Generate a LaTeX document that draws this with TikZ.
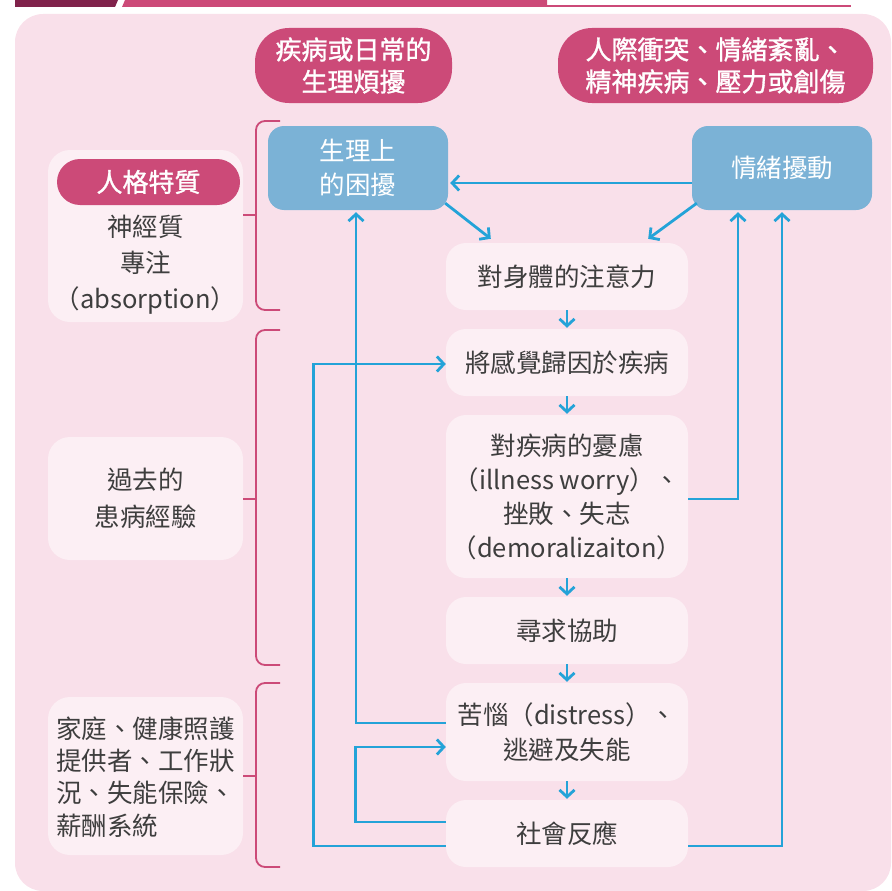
\documentclass[tikz,border=0pt]{standalone}
\usepackage{fontspec}
\setmainfont{Noto Sans CJK TC}
\newfontfamily\pillfont[FakeBold=1.2]{Noto Sans CJK TC}
\usetikzlibrary{arrows.meta}
\definecolor{panelpink}{RGB}{249,224,234}
\definecolor{boxpink}{RGB}{252,239,244}
\definecolor{rose}{RGB}{204,74,120}
\definecolor{maroon}{RGB}{128,34,75}
\definecolor{boxblue}{RGB}{123,178,214}
\definecolor{flowblue}{RGB}{36,163,216}
\definecolor{txtgray}{RGB}{62,62,62}
\tikzset{
 cbox/.style={fill=boxpink, rounded corners=20pt, minimum width=242pt, inner sep=0pt, align=center, text=txtgray, font=\fontsize{25.5}{34}\selectfont},
 lbox/.style={fill=boxpink, rounded corners=22pt, minimum width=195pt, inner sep=0pt},
 bbox/.style={fill=boxblue, rounded corners=16pt, minimum width=180pt, minimum height=84pt, inner sep=0pt, align=center, text=white, font=\fontsize{25.5}{34}\selectfont},
 pill/.style={fill=rose, rounded corners=34pt, inner sep=0pt, align=center, text=white, font=\pillfont\fontsize{26}{32}\selectfont},
 plaintext/.style={inner sep=0pt, text=txtgray, font=\fontsize{25.5}{36}\selectfont},
 flow/.style={draw=flowblue, line width=2.8pt, -{Straight Barb[length=7pt,width=15pt]}},
 brk/.style={draw=rose, line width=1.8pt, rounded corners=9pt},
}
\begin{document}
\begin{tikzpicture}[x=1pt,y=-1pt]
\useasboundingbox (0,0) rectangle (891,891);
% top strip
\fill[maroon] (15,0) -- (118,0) -- (115,7) -- (15,7) -- cycle;
\fill[rose] (125,0) -- (547,0) -- (547,7) -- (122,7) -- cycle;
\fill[rose] (547,4.7) rectangle (851,7.3);
% panel
\fill[panelpink, rounded corners=28pt] (15,14) rectangle (891,891);

% top pills
\node[pill, minimum width=197pt, minimum height=75pt] (top1) at (353.5,65.5) {疾病或日常的\\生理煩擾};
\node[pill, minimum width=315pt, minimum height=75pt] (top2) at (715.5,65.5) {人際衝突、情緒紊亂、\\精神疾病、壓力或創傷};

% blue boxes
\node[bbox] (phys) at (358,168) {生理上\\的困擾};
\node[bbox] (emo) at (782,168) {情緒擾動};

% center column
\node[cbox, minimum height=67pt] (att) at (567,276.5) {對身體的注意力};
\node[cbox, minimum height=67pt] (attr) at (567,362.5) {將感覺歸因於疾病};
\node[cbox, minimum height=163pt] (worry) at (567,496.5) {對疾病的憂慮\\（illness worry）、\\挫敗、失志\\（demoralizaiton）};
\node[cbox, minimum height=67pt] (help) at (567,630.5) {尋求協助};
\node[cbox, minimum height=98pt, font=\fontsize{25.5}{35}\selectfont] (dist) at (567,732) {苦惱（distress）、\\逃避及失能};
\node[cbox, minimum height=67pt] (soc) at (567,833.5) {社會反應};

% left boxes
\node[lbox, minimum height=172pt] (pers) at (145.5,236) {};
\node[pill, minimum width=183pt, minimum height=46pt, rounded corners=23pt] (perstag) at (148.5,182) {人格特質};
\node[plaintext, align=center] (perstext) at (145.5,265) {神經質\\專注\\（absorption）};

\node[lbox, minimum height=123pt] (past) at (145.5,498.5) {};
\node[plaintext, align=center, font=\fontsize{25.5}{37}\selectfont] (pasttext) at (145.5,498.5) {過去的\\患病經驗};

\node[lbox, minimum height=158pt] (fam) at (145.5,776) {};
\node[plaintext, align=left, anchor=west, font=\fontsize{25.5}{32.3}\selectfont] (famtext) at (56,777) {家庭、健康照護\\提供者、工作狀\\況、失能保險、\\薪酬系統};

% brackets
\coordinate (b1) at (256,215);
\coordinate (b2) at (256,499);
\coordinate (b3) at (256,776);
\draw[brk] (280,121) -- (256,121) -- (256,310) -- (280,310);
\draw[brk] (280,330) -- (256,330) -- (256,665) -- (280,665);
\draw[brk] (280,683) -- (256,683) -- (256,867) -- (280,867);
\draw[draw=rose, line width=1.8pt] (pers.east |- b1) -- (b1);
\draw[draw=rose, line width=1.8pt] (past.east |- b2) -- (b2);
\draw[draw=rose, line width=1.8pt] (fam.east |- b3) -- (b3);

% flow arrows
\draw[flow, shorten >=2pt] ([yshift=-15pt]emo.west) -- ([yshift=-15pt]phys.east);
\draw[flow] ([xshift=-3pt,yshift=7pt]phys.south east) -- ([xshift=45pt,yshift=4pt]att.north west);
\draw[flow] ([xshift=5pt,yshift=7pt]emo.south west) -- ([xshift=-40pt,yshift=4pt]att.north east);

\draw[flow, shorten >=1pt] (att) -- (attr);
\draw[flow, shorten >=1pt] (attr) -- (worry);
\draw[flow, shorten >=1pt] (worry) -- (help);
\draw[flow, shorten >=1pt] (help) -- (dist);
\draw[flow, shorten >=1pt] (dist) -- (soc);

\draw[flow, shorten >=2pt] ([yshift=-2.5pt]worry.east) -| ([xshift=-44pt]emo.south);
\draw[flow, shorten >=2pt] ([yshift=-12.5pt]soc.east) -| (emo.south);

\draw[flow, shorten >=2pt] ([yshift=9pt]dist.west) -| ([xshift=-2pt]phys.south);
\draw[flow] ([yshift=11.5pt]soc.west) -- ++(-90,0) |- ([yshift=-15pt]dist.west);
\draw[flow] ([yshift=-12.5pt]soc.west) -- ++(-132,0) |- ([yshift=-1.5pt]attr.west);
\end{tikzpicture}
\end{document}
